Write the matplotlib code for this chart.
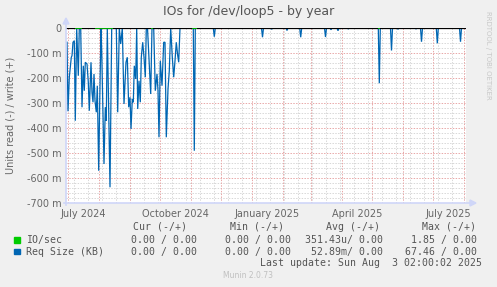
import datetime as dt
import numpy as np
import matplotlib
matplotlib.use("Agg")
import matplotlib.pyplot as plt
from matplotlib.patches import Rectangle

# ---------------- data ----------------
start_date = dt.date(2024, 6, 29)          # left edge of the graph (400 days shown)
span_days = 400

# Req Size read (negative side), day offset from start_date and value in milli-units
req_days = [1.0, 2.0, 3.3, 5.3, 6.0, 7.0, 8.3, 9.3, 10.7, 12.3, 13.3, 14.7, 16.0, 17.3,
            18.3, 19.3, 21.0, 22.3, 23.3, 25.0, 26.0, 27.0, 28.0, 29.0, 30.3, 31.3, 32.7,
            33.7, 35.0, 35.7, 38.0, 39.3, 40.3, 41.3, 44.0, 45.7, 47.3, 50.3, 51.7, 53.3,
            54.7, 56.3, 58.0, 60.0, 61.3, 62.7, 64.0, 65.0, 66.3, 67.3, 68.3, 69.7, 70.7,
            71.7, 73.0, 74.3, 75.3, 76.7, 78.0, 79.3, 80.3, 81.5, 84.7, 86.0, 87.7, 89.3,
            91.0, 92.0, 93.0, 94.3, 96.0, 97.7, 99.0, 100.3, 102.0, 103.3, 104.7, 106.3,
            107.7, 109.0, 110.3, 111.7, 112.7, 114.0, 127.3, 128.3, 129.3,
            147.3, 148.3, 149.3, 195.5, 196.5, 197.5, 204.7, 205.7, 206.7, 220, 221, 222,
            233.7, 234.7, 235.7, 258.5, 259.5, 260.5, 264, 265, 266, 271, 272, 273,
            281.3, 282.3, 283.3, 312.3, 313.3, 314.3, 324.5, 325.5, 326.5, 331, 332, 333,
            349, 350, 351, 354.5, 355.5, 356.5, 370.3, 371.3, 372.3, 393.5, 394.5, 395.5,
            398.0]
req_vals = [-57, -333, -197, -117, -111, -57, -51, -371, 0, -191, 0, 0, -317, -151,
            -251, -137, -144, -217, -331, -137, -257, -297, -184, -291, -337, -231, -571,
            -304, 0, -91, -544, -317, -371, 0, -637, 0, 0, 0, -337, 0,
            -64, 0, -304, -137, -117, -317, -277, -404, -284, -297, -151, -204, 0,
            -324, -211, -297, -117, -57, -117, -197, 0, 0, -264, 0, 0, -251,
            -184, -251, -437, -131, -231, -57, -57, -437, -244, -171, 0, -117,
            -197, -131, -57, -110, -137, 0, 0, -491, 0,
            0, -35, 0, 0, -37, 0, 0, -5, 0, 0, -10, 0,
            0, -37, 0, 0, -36, 0, 0, -7, 0, 0, -11, 0,
            0, -4, 0, 0, -221, 0, 0, -90, 0, 0, -5, 0,
            0, -4, 0, 0, -55, 0, 0, -61, 0, 0, -55, 0,
            0]

# IO/sec read: visible (known) stretches at zero
io_segments = [(9, 16), (29, 47), (85, 87), (126, 131), (312, 314)]

# legend table
legend_names = ["IO/sec", "Req Size (KB)"]
legend_colors = ["#00CC00", "#0066B3"]
col_headers = ["Cur (-/+)", "Min (-/+)", "Avg (-/+)", "Max (-/+)"]
cur_vals = ["0.00 / 0.00", "0.00 / 0.00"]
min_vals = ["0.00 / 0.00", "0.00 / 0.00"]
avg_vals = ["351.43u/ 0.00", "52.89m/ 0.00"]
max_vals = ["1.85 / 0.00", "67.46 / 0.00"]

y_ticks_m = [0, -100, -200, -300, -400, -500, -600, -700]
x_label_months = [(2024, 7, "July 2024"), (2024, 10, "October 2024"),
                  (2025, 1, "January 2025"), (2025, 4, "April 2025"),
                  (2025, 7, "July 2025")]

# ---------------- figure ----------------
W, H = 497, 287
fig = plt.figure(figsize=(W / 100, H / 100), dpi=100, facecolor="#F0F0F0")

L, R, T, B = 66, 466, 28, 203
ax = fig.add_axes([L / W, 1 - B / H, (R - L) / W, (B - T) / H], facecolor="white")
ax.set_xlim(0, span_days)
ax.set_ylim(-0.7, 0.0)
for s in ax.spines.values():
    s.set_visible(False)

def day_of(d):
    return (d - start_date).days

# grid
dot = (0, (1.4, 1.4))
for v in np.arange(-0.68, 0.0, 0.02):
    if abs(round(v * 10) - v * 10) > 1e-6:
        ax.axhline(v, color="#D8D8D8", lw=0.72, ls=dot, zorder=1)
minor_day = 8
while minor_day < span_days:
    ax.axvline(minor_day, color="#D8D8D8", lw=0.72, ls=dot, zorder=1)
    minor_day += 14
for v in y_ticks_m:
    ax.axhline(v / 1000, color="#E8A8A8", lw=0.72, ls=dot, zorder=1.5)
y, m = 2024, 7
while True:
    d = day_of(dt.date(y, m, 1))
    if d > span_days:
        break
    ax.axvline(d, color="#E8A8A8", lw=0.72, ls=dot, zorder=1.5)
    m += 1
    if m > 12:
        m = 1
        y += 1

# data
ax.plot(req_days, np.array(req_vals) / 1000.0, color="#0066B3", lw=0.9, zorder=3,
        solid_joinstyle="miter")
ax.axhline(0, color="black", lw=0.9, zorder=4)
for a, b in io_segments:
    ax.plot([a, b], [0, 0], color="#00CC00", lw=1.2, zorder=5, solid_capstyle="butt")

# ticks
ax.set_yticks([v / 1000 for v in y_ticks_m])
ax.set_yticklabels(["0" if v == 0 else f"{v} m" for v in y_ticks_m])
ax.set_xticks([day_of(dt.date(yy, mm, 16)) + 0.5 for yy, mm, _ in x_label_months])
ax.set_xticklabels([lab for _, _, lab in x_label_months])
ax.tick_params(length=0, labelsize=7, labelcolor="#666666", pad=3)
ax.tick_params(axis="x", pad=4)

# axis lines with arrows
axis_col = "#CFD6F8"
fig.add_artist(plt.Line2D([L / W, L / W], [1 - (B + 2) / H, 1 - 21 / H], color=axis_col, lw=1.2))
fig.add_artist(plt.Line2D([(L - 2) / W, 471 / W], [1 - B / H, 1 - B / H], color=axis_col, lw=1.2))
fig.patches.append(plt.Polygon([[(L - 3) / W, 1 - 24 / H], [(L + 3) / W, 1 - 24 / H], [L / W, 1 - 18 / H]],
                               closed=True, color=axis_col, transform=fig.transFigure))
fig.patches.append(plt.Polygon([[470 / W, 1 - (B - 3) / H], [470 / W, 1 - (B + 3) / H], [476 / W, 1 - B / H]],
                               closed=True, color=axis_col, transform=fig.transFigure))

# texts
fig.text(248.5 / W, 1 - 12 / H, "IOs for /dev/loop5 - by year", ha="center", va="center",
         fontsize=9, color="#555555")
fig.text(11 / W, 1 - 115 / H, "Units read (-) / write (+)", rotation=90, ha="center", va="center",
         fontsize=7, color="#666666")
fig.text(488 / W, 1 - 55 / H, "RRDTOOL / TOBI OETIKER", rotation=270, ha="center", va="center",
         fontsize=5, color="#C8C8C8")

mono = dict(family="DejaVu Sans Mono", fontsize=7.1, color="#555555", va="center")
hdr_end = [187, 284, 380, 476]
val_end = [197, 291, 383, 477]
for h, xe in zip(col_headers, hdr_end):
    fig.text(xe / W, 1 - 226.7 / H, h, ha="right", **mono)
rows_y = [240, 251.7]
for i, name in enumerate(legend_names):
    yy = rows_y[i]
    fig.patches.append(Rectangle((14 / W, 1 - (yy + 2.7) / H), 5.5 / W, 5.5 / H,
                                 transform=fig.transFigure, color=legend_colors[i]))
    fig.text(26 / W, 1 - yy / H, name, ha="left", **mono)
    for col, xe in zip([cur_vals, min_vals, avg_vals, max_vals], val_end):
        fig.text(xe / W, 1 - yy / H, col[i], ha="right", **mono)
fig.text(482 / W, 1 - 263.3 / H, "Last update: Sun Aug  3 02:00:02 2025", ha="right", **mono)
fig.text(248 / W, 1 - 276 / H, "Munin 2.0.73", ha="center", va="center", fontsize=5.5, color="#C0C0C0")

fig.savefig("out.png", dpi=100, facecolor=fig.get_facecolor())
